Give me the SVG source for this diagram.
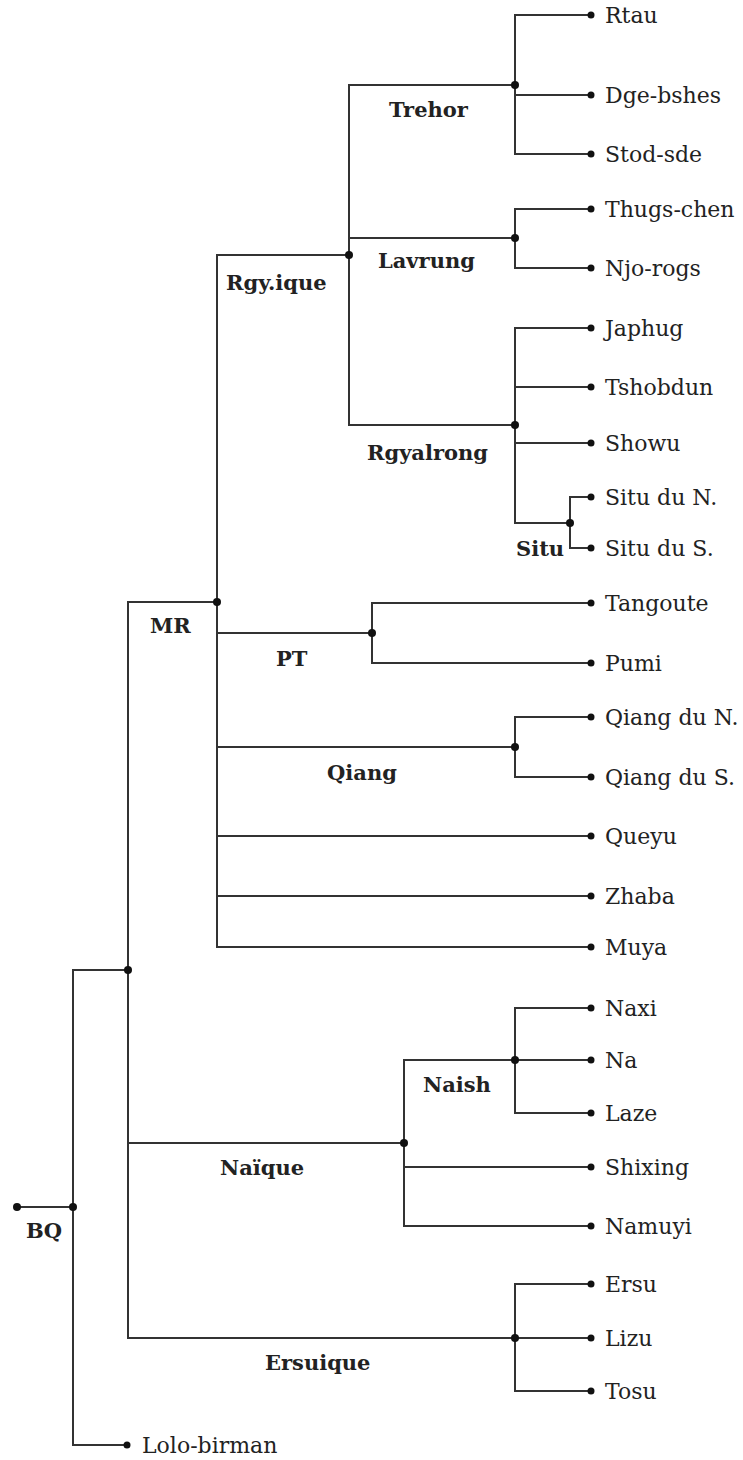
<svg xmlns="http://www.w3.org/2000/svg" width="743" height="1460" viewBox="0 0 743 1460">
<style>
.ln{fill:none;stroke:#333;stroke-width:2;stroke-linecap:square}
.dot{fill:#111}
.leaf{font-family:"DejaVu Serif","Liberation Serif",serif;font-size:22px;fill:#222}
.lab{font-family:"DejaVu Serif","Liberation Serif",serif;font-size:21px;font-weight:bold;fill:#222}
</style>
<rect width="743" height="1460" fill="#fff"/>
<g id="connectors" class="ln">
<path d="M17 1207H73M73 970V1445M73 970H128M73 1445H127"/>
<path d="M128 602V1338M128 602H217M128 1143H404M128 1338H515"/>
<path d="M217 255V947M217 255H349M217 633H372M217 747H515M217 836H591M217 896H591M217 947H591"/>
<path d="M349 85V425M349 85H515M349 238H515M349 425H515"/>
<path d="M515 15V154M515 15H591M515 95H591M515 154H591"/>
<path d="M515 209V268M515 209H591M515 268H591"/>
<path d="M515 328V523M515 328H591M515 387H591M515 443H591M515 523H570"/>
<path d="M570 497V548M570 497H591M570 548H591"/>
<path d="M372 603V663M372 603H591M372 663H591"/>
<path d="M515 717V777M515 717H591M515 777H591"/>
<path d="M404 1060V1226M404 1060H515M404 1167H591M404 1226H591"/>
<path d="M515 1008V1113M515 1008H591M515 1060H591M515 1113H591"/>
<path d="M515 1284V1391M515 1284H591M515 1338H591M515 1391H591"/>
</g>
<g id="root"><circle class="dot" cx="17" cy="1207" r="4"/></g>
<g id="BQ"><circle class="dot" cx="73" cy="1207" r="4"/><text class="lab" x="26" y="1238">BQ</text></g>
<g id="n128"><circle class="dot" cx="128" cy="970" r="4"/></g>
<g id="MR"><circle class="dot" cx="217" cy="602" r="4"/><text class="lab" x="150" y="633">MR</text></g>
<g id="Rgyique"><circle class="dot" cx="349" cy="255" r="4"/><text class="lab" x="226" y="290">Rgy.ique</text></g>
<g id="Trehor"><circle class="dot" cx="515" cy="85" r="4"/><text class="lab" x="389" y="117">Trehor</text></g>
<g id="Lavrung"><circle class="dot" cx="515" cy="238" r="4"/><text class="lab" x="378" y="268">Lavrung</text></g>
<g id="Rgyalrong"><circle class="dot" cx="515" cy="425" r="4"/><text class="lab" x="367" y="460">Rgyalrong</text></g>
<g id="Situ"><circle class="dot" cx="570" cy="523" r="4"/><text class="lab" x="516" y="556">Situ</text></g>
<g id="PT"><circle class="dot" cx="372" cy="633" r="4"/><text class="lab" x="276" y="666">PT</text></g>
<g id="Qiang"><circle class="dot" cx="515" cy="747" r="4"/><text class="lab" x="327" y="780">Qiang</text></g>
<g id="Naique"><circle class="dot" cx="404" cy="1143" r="4"/><text class="lab" x="220" y="1175">Naïque</text></g>
<g id="Naish"><circle class="dot" cx="515" cy="1060" r="4"/><text class="lab" x="423" y="1092">Naish</text></g>
<g id="Ersuique"><circle class="dot" cx="515" cy="1338" r="4"/><text class="lab" x="265" y="1370">Ersuique</text></g>
<g id="Rtau"><circle class="dot" cx="591" cy="15" r="3.5"/><text class="leaf" x="605" y="23">Rtau</text></g>
<g id="Dge-bshes"><circle class="dot" cx="591" cy="95" r="3.5"/><text class="leaf" x="605" y="103">Dge-bshes</text></g>
<g id="Stod-sde"><circle class="dot" cx="591" cy="154" r="3.5"/><text class="leaf" x="605" y="162">Stod-sde</text></g>
<g id="Thugs-chen"><circle class="dot" cx="591" cy="209" r="3.5"/><text class="leaf" x="605" y="217">Thugs-chen</text></g>
<g id="Njo-rogs"><circle class="dot" cx="591" cy="268" r="3.5"/><text class="leaf" x="605" y="276">Njo-rogs</text></g>
<g id="Japhug"><circle class="dot" cx="591" cy="328" r="3.5"/><text class="leaf" x="605" y="336">Japhug</text></g>
<g id="Tshobdun"><circle class="dot" cx="591" cy="387" r="3.5"/><text class="leaf" x="605" y="395">Tshobdun</text></g>
<g id="Showu"><circle class="dot" cx="591" cy="443" r="3.5"/><text class="leaf" x="605" y="451">Showu</text></g>
<g id="SituN"><circle class="dot" cx="591" cy="497" r="3.5"/><text class="leaf" x="605" y="505">Situ du N.</text></g>
<g id="SituS"><circle class="dot" cx="591" cy="548" r="3.5"/><text class="leaf" x="605" y="556">Situ du S.</text></g>
<g id="Tangoute"><circle class="dot" cx="591" cy="603" r="3.5"/><text class="leaf" x="605" y="611">Tangoute</text></g>
<g id="Pumi"><circle class="dot" cx="591" cy="663" r="3.5"/><text class="leaf" x="605" y="671">Pumi</text></g>
<g id="QiangN"><circle class="dot" cx="591" cy="717" r="3.5"/><text class="leaf" x="605" y="725">Qiang du N.</text></g>
<g id="QiangS"><circle class="dot" cx="591" cy="777" r="3.5"/><text class="leaf" x="605" y="785">Qiang du S.</text></g>
<g id="Queyu"><circle class="dot" cx="591" cy="836" r="3.5"/><text class="leaf" x="605" y="844">Queyu</text></g>
<g id="Zhaba"><circle class="dot" cx="591" cy="896" r="3.5"/><text class="leaf" x="605" y="904">Zhaba</text></g>
<g id="Muya"><circle class="dot" cx="591" cy="947" r="3.5"/><text class="leaf" x="605" y="955">Muya</text></g>
<g id="Naxi"><circle class="dot" cx="591" cy="1008" r="3.5"/><text class="leaf" x="605" y="1016">Naxi</text></g>
<g id="Na"><circle class="dot" cx="591" cy="1060" r="3.5"/><text class="leaf" x="605" y="1068">Na</text></g>
<g id="Laze"><circle class="dot" cx="591" cy="1113" r="3.5"/><text class="leaf" x="605" y="1121">Laze</text></g>
<g id="Shixing"><circle class="dot" cx="591" cy="1167" r="3.5"/><text class="leaf" x="605" y="1175">Shixing</text></g>
<g id="Namuyi"><circle class="dot" cx="591" cy="1226" r="3.5"/><text class="leaf" x="605" y="1234">Namuyi</text></g>
<g id="Ersu"><circle class="dot" cx="591" cy="1284" r="3.5"/><text class="leaf" x="605" y="1292">Ersu</text></g>
<g id="Lizu"><circle class="dot" cx="591" cy="1338" r="3.5"/><text class="leaf" x="605" y="1346">Lizu</text></g>
<g id="Tosu"><circle class="dot" cx="591" cy="1391" r="3.5"/><text class="leaf" x="605" y="1399">Tosu</text></g>
<g id="Lolo-birman"><circle class="dot" cx="127" cy="1445" r="3.5"/><text class="leaf" x="142" y="1453">Lolo-birman</text></g>
</svg>
